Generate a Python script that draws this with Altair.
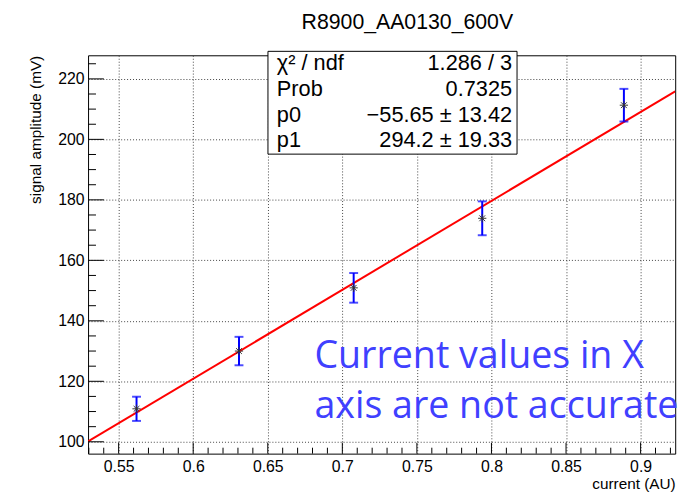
import altair as alt
import pandas as pd

# ---- data ----
x_vals = [0.562, 0.6307, 0.7076, 0.7938, 0.8888]
y_vals = [110.9, 130.0, 150.9, 173.9, 211.3]
y_err = [4.0, 4.7, 4.9, 5.6, 5.4]

fit_x = [0.5295, 0.9232]
fit_y = [100.1, 215.9]

x_major = [0.55, 0.6, 0.65, 0.7, 0.75, 0.8, 0.85, 0.9]
x_minor = [0.53, 0.54, 0.56, 0.57, 0.58, 0.59, 0.61, 0.62, 0.63, 0.64,
           0.66, 0.67, 0.68, 0.69, 0.71, 0.72, 0.73, 0.74, 0.76, 0.77,
           0.78, 0.79, 0.81, 0.82, 0.83, 0.84, 0.86, 0.87, 0.88, 0.89,
           0.91, 0.92]
y_major = [100, 120, 140, 160, 180, 200, 220]
y_minor = [105, 110, 115, 125, 130, 135, 145, 150, 155, 165, 170, 175,
           185, 190, 195, 205, 210, 215, 225]

X_DOMAIN = [0.5295, 0.9232]
Y_DOMAIN = [96.08, 227.8]

title_text = "R8900_AA0130_600V"
stats_labels = ["\u03c7\u00b2 / ndf", "Prob", "p0", "p1"]
stats_values = ["1.286 / 3", "0.7325", "\u221255.65 \u00b1 13.42", "294.2 \u00b1 19.33"]
note_lines = ["Current values in X", "axis are not accurate"]

W, H = 594, 403
FONT = "Liberation Sans"

xs = alt.Scale(domain=X_DOMAIN, nice=False, zero=False)
ys = alt.Scale(domain=Y_DOMAIN, nice=False, zero=False)

pts = pd.DataFrame({"x": x_vals, "y": y_vals,
                    "lo": [v - e for v, e in zip(y_vals, y_err)],
                    "hi": [v + e for v, e in zip(y_vals, y_err)]})
fit = pd.DataFrame({"x": fit_x, "y": fit_y})
one = pd.DataFrame({"a": [0]})

x_axis = alt.Axis(values=x_major, format="~g", grid=True, gridDash=[1, 2],
                  gridColor="#444", gridWidth=1, domain=False, ticks=False,
                  tickSize=0, labelFont=FONT, labelFontSize=16, labelColor="black",
                  labelPadding=5, title="current (AU)", titleFont=FONT,
                  titleFontSize=15.5, titleFontWeight="normal", titleColor="black",
                  titleX=W, titleY=35, titleAlign="right", titleBaseline="alphabetic",
                  labelFlush=False)
y_axis = alt.Axis(values=y_major, grid=True, gridDash=[1, 2], gridColor="#444",
                  gridWidth=1, domain=False, ticks=False, tickSize=0,
                  labelFont=FONT, labelFontSize=16, labelColor="black",
                  labelPadding=4, title="signal amplitude (mV)", titleFont=FONT,
                  titleFontSize=15.5, titleFontWeight="normal", titleColor="black",
                  titleX=-53, titleY=0, titleAngle=-90, titleAlign="right",
                  titleBaseline="middle", labelFlush=False)


def X(field):
    return alt.X(field, type="quantitative", scale=xs, axis=x_axis)


def Y(field):
    return alt.Y(field, type="quantitative", scale=ys, axis=y_axis)


fit_line = alt.Chart(fit).mark_line(color="#ff0000", strokeWidth=2, clip=True).encode(
    x=X("x"), y=Y("y"))

err = alt.Chart(pts).mark_errorbar(ticks=True, color="#0000ff", thickness=2, size=9).encode(
    x=X("x"), y=Y("lo"), y2="hi:Q")

STAR = "M0,-1L0,1M-1,0L1,0M-0.7,-0.7L0.7,0.7M-0.7,0.7L0.7,-0.7"
markers = alt.Chart(pts).mark_point(shape=STAR, size=70, filled=False,
                                    stroke="#333333", strokeWidth=1, opacity=1).encode(
    x=X("x"), y=Y("y"))

# inward ticks (ROOT style)
ymaj = alt.Chart(pd.DataFrame({"v": y_major})).mark_rule(color="black", strokeWidth=1).encode(
    y=Y("v"), x=alt.value(0), x2=alt.value(16))
ymin = alt.Chart(pd.DataFrame({"v": y_minor})).mark_rule(color="black", strokeWidth=1).encode(
    y=Y("v"), x=alt.value(0), x2=alt.value(8))
xmaj = alt.Chart(pd.DataFrame({"v": x_major})).mark_rule(color="black", strokeWidth=1).encode(
    x=X("v"), y=alt.value(H - 11), y2=alt.value(H))
xmin = alt.Chart(pd.DataFrame({"v": x_minor})).mark_rule(color="black", strokeWidth=1).encode(
    x=X("v"), y=alt.value(H - 6), y2=alt.value(H))

# title
title = alt.Chart(one).mark_text(font=FONT, fontSize=21.5, color="black", align="center",
                                 baseline="alphabetic").encode(
    x=alt.value(323), y=alt.value(-27), text=alt.value(title_text))

# stats box
box = alt.Chart(one).mark_rect(fill="white", stroke="black", strokeWidth=1).encode(
    x=alt.value(182), x2=alt.value(434), y=alt.value(-4), y2=alt.value(100))

stats_df = pd.DataFrame({"lab": stats_labels, "val": stats_values})
row_y = [15, 41, 67, 93]
stats_layers = []
for i in range(4):
    d = stats_df.iloc[[i]]
    stats_layers.append(alt.Chart(d).mark_text(font=FONT, fontSize=22, color="black",
                                               align="left", baseline="alphabetic").encode(
        x=alt.value(191), y=alt.value(row_y[i]), text="lab:N"))
    stats_layers.append(alt.Chart(d).mark_text(font=FONT, fontSize=22, color="black",
                                               align="right", baseline="alphabetic").encode(
        x=alt.value(429), y=alt.value(row_y[i]), text="val:N"))

note_layers = []
for i, line in enumerate(note_lines):
    note_layers.append(alt.Chart(one).mark_text(font="Open Sans", fontSize=38, color="#4040ff",
                                                align="left", baseline="alphabetic").encode(
        x=alt.value(229), y=alt.value(316 + 51 * i), text=alt.value(line)))

chart = alt.layer(fit_line, err, markers, ymaj, ymin, xmaj, xmin, title, box,
                  *stats_layers, *note_layers).properties(
    width=W, height=H,
    autosize=alt.AutoSizeParams(type="none"),
    padding={"left": 81, "top": 45, "right": 17, "bottom": 39},
).configure_view(stroke="black", strokeWidth=1)

chart.save("out.html", embed_options={"renderer": "svg", "actions": False})
